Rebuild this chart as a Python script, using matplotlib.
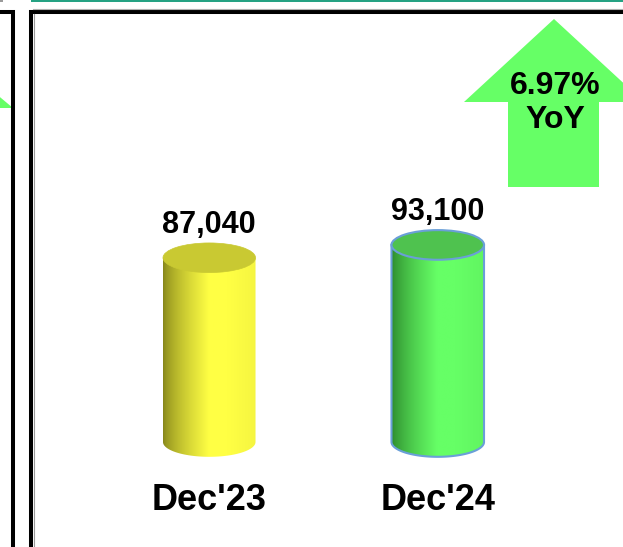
import numpy as np
import matplotlib
matplotlib.use("Agg")
import matplotlib.pyplot as plt
from matplotlib.patches import Ellipse, Polygon, Rectangle, PathPatch
from matplotlib.path import Path
from matplotlib.colors import to_rgb

plt.rcParams['font.family'] = ['Liberation Sans', 'DejaVu Sans']

# data
periods = ["Dec'23", "Dec'24"]
values = [87040, 93100]
value_labels = ["87,040", "93,100"]
yoy_label = "6.97%\nYoY"

# colours: (dark side, bright side, top, edge)
styles = [
    ("#85851a", "#ffff44", "#c9c932", "none"),
    ("#2a842a", "#66ff66", "#4fc24f", "#6a9fd8"),
]

W, H = 623, 547
fig = plt.figure(figsize=(W / 100, H / 100), dpi=100)

# background layer in pixel coordinates for the frame and decorations
bg = fig.add_axes([0, 0, 1, 1])
bg.set_xlim(0, W)
bg.set_ylim(H, 0)
bg.axis("off")

# teal strip at the top
bg.add_patch(Rectangle((31, -1), W, 3, facecolor="#25a283", edgecolor="none"))
bg.add_patch(Rectangle((0, -1), 3, 3, facecolor="#9a9a9a", edgecolor="none"))

# partial arrow from neighbouring panel
bg.add_patch(Polygon([(-60, 47), (13, 108), (-60, 108)], closed=True,
                     facecolor="#66ff66", edgecolor="none"))

# left panel frame
bg.plot([-5, 13, 13], [11.5, 11.5, 600], color="black", lw=2.9,
        solid_joinstyle="miter")
# main panel frame
bg.plot([31, 31, 700], [600, 11.5, 11.5], color="black", lw=2.9,
        solid_joinstyle="miter")
bg.plot([33.5, 33.5], [14, 600], color="#9a9a9a", lw=0.8)
bg.plot([33, 700], [9, 9], color="#b0b0b0", lw=0.8)

# YoY arrow
arrow = [(464, 102), (554, 19), (644, 102), (599, 102), (599, 187),
         (508, 187), (508, 102)]
bg.add_patch(Polygon(arrow, closed=True, facecolor="#66ff66", edgecolor="none"))
bg.text(555, 103, yoy_label, ha="center", va="center", fontsize=23,
        fontweight="bold", linespacing=1.15)

# chart axes for the cylinders (extends a bit below zero for the bottom rims)
ymin, ymax = -9450, 120000
ax = fig.add_axes([95 / W, 85 / H, 457 / W, 274 / H])
ax.set_xlim(-0.5, 1.5)
ax.set_ylim(ymin, ymax)
ax.patch.set_alpha(0)
for s in ax.spines.values():
    s.set_visible(False)
ax.set_yticks([])
ax.set_xticks(range(len(periods)))
ax.set_xticklabels(periods, fontsize=26, fontweight="bold")
ax.tick_params(axis="x", length=0, pad=15)

bw = 0.405
eh = 14000  # ellipse height in data units

for i, (v, lab, st) in enumerate(zip(values, value_labels, styles)):
    dark, bright, top, edge = st
    x0, x1 = i - bw / 2, i + bw / 2
    t = np.linspace(np.pi, 2 * np.pi, 60)
    pts = [(x0, v)] + list(zip(i + bw / 2 * np.cos(t), eh / 2 * np.sin(t))) + [(x1, v)]
    body = Path(pts + [(x0, v)], closed=True)
    patch = PathPatch(body, facecolor="none", edgecolor="none")
    ax.add_patch(patch)

    # horizontal shading across the cylinder
    d = np.array(to_rgb(dark))
    b = np.array(to_rgb(bright))
    u = np.linspace(0, 1, 200)
    k = np.clip(u / 0.5, 0, 1) ** 0.7
    k = k - 0.08 * np.clip((u - 0.7) / 0.3, 0, 1)
    grad = d[None, :] * (1 - k[:, None]) + b[None, :] * k[:, None]
    im = ax.imshow(grad[None, :, :], extent=[x0, x1, -eh / 2, v], aspect="auto",
                   origin="lower", interpolation="bilinear", zorder=2)
    im.set_clip_path(patch)

    if edge != "none":
        ax.add_patch(PathPatch(body, facecolor="none", edgecolor=edge, lw=1.5,
                               zorder=3))
    ax.add_patch(Ellipse((i, v), bw, eh, facecolor=top,
                         edgecolor=edge if edge != "none" else top,
                         lw=1.5 if edge != "none" else 0.5, zorder=4))

    ax.annotate(lab, xy=(i, v), xytext=(0, 18), textcoords="offset points",
                ha="center", va="baseline", fontsize=22, fontweight="bold",
                annotation_clip=False)

ax.set_xlim(-0.5, 1.5)
ax.set_ylim(ymin, ymax)

fig.savefig("out.png", dpi=100)
